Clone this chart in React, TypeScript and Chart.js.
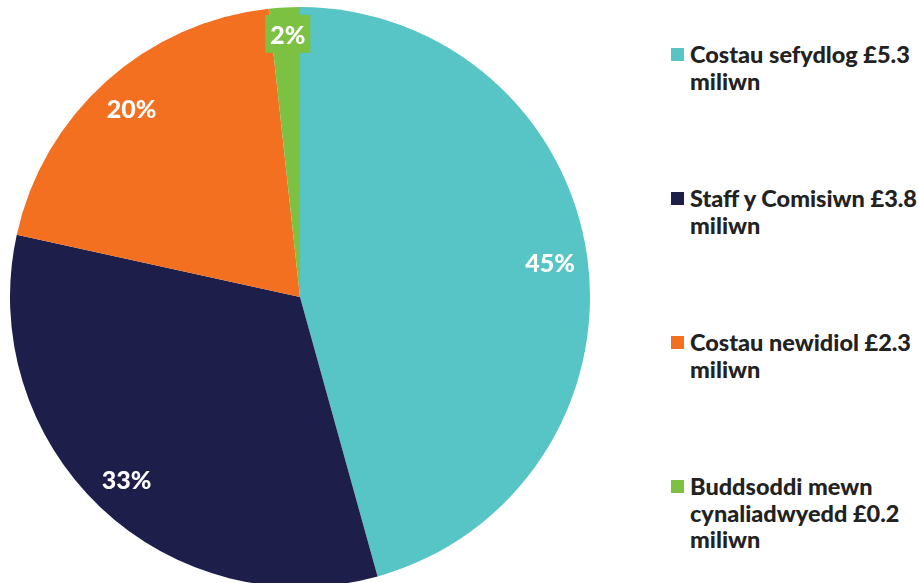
import React, { useEffect, useRef } from "react";
import { Chart, registerables } from "chart.js";

Chart.register(...registerables);

const categories = [
  "Costau sefydlog",
  "Staff y Comisiwn",
  "Costau newidiol",
  "Buddsoddi mewn cynaliadwyedd",
];
const valuesMillions = [5.3, 3.8, 2.3, 0.2];
const percentLabels = ["45%", "33%", "20%", "2%"];
const legendLines = [
  ["Costau sefydlog £5.3", "miliwn"],
  ["Staff y Comisiwn £3.8", "miliwn"],
  ["Costau newidiol £2.3", "miliwn"],
  ["Buddsoddi mewn", "cynaliadwyedd £0.2", "miliwn"],
];
const colors = ["#57C4C6", "#1E1E4B", "#F37021", "#7DC142"];

const LABEL_FONT = "900 25px Lato, 'Noto Sans', sans-serif";
const LEGEND_FONT = "900 23.5px Lato, 'Noto Sans', sans-serif";

const pieLabels = {
  id: "pieLabels",
  afterDatasetsDraw(chart: any) {
    const ctx = chart.ctx;
    const meta = chart.getDatasetMeta(0);
    const total = valuesMillions.reduce((a, b) => a + b, 0);
    ctx.save();
    ctx.font = LABEL_FONT;
    ctx.textAlign = "center";
    ctx.textBaseline = "middle";
    meta.data.forEach((arc: any, i: number) => {
      const p = arc.getProps(["x", "y", "startAngle", "endAngle", "outerRadius"], true);
      const mid = (p.startAngle + p.endAngle) / 2;
      const small = valuesMillions[i] / total < 0.05;
      const r = p.outerRadius * (small ? 0.905 : 0.87);
      const x = p.x + Math.cos(mid) * r + (small ? 2 : 0);
      const y = p.y + Math.sin(mid) * r;
      const text = percentLabels[i];
      if (small) {
        const w = ctx.measureText(text).width + 10;
        const h = 38;
        ctx.fillStyle = colors[i];
        ctx.fillRect(x - w / 2, y - h / 2 - 1, w, h);
      }
      ctx.fillStyle = "#ffffff";
      ctx.fillText(text, x, y + 1);
    });
    ctx.restore();
  },
};

export default function App() {
  const canvasRef = useRef<HTMLCanvasElement | null>(null);

  useEffect(() => {
    if (!canvasRef.current) return;
    const chart = new Chart(canvasRef.current, {
      type: "pie",
      data: {
        labels: categories,
        datasets: [
          {
            data: valuesMillions,
            backgroundColor: colors,
            borderWidth: 0,
          },
        ],
      },
      options: {
        animation: false,
        responsive: true,
        maintainAspectRatio: false,
        layout: { padding: 0 },
        plugins: {
          legend: { display: false },
          tooltip: { enabled: false },
        },
      },
      plugins: [pieLabels],
    });
    if ((document as any).fonts && (document as any).fonts.ready) {
      (document as any).fonts.ready.then(() => chart.draw());
    }
    return () => chart.destroy();
  }, []);

  return (
    <div
      style={{
        position: "fixed",
        left: 0,
        top: 0,
        width: 918,
        height: 583,
        overflow: "hidden",
        background: "#ffffff",
      }}
    >
      <div style={{ position: "absolute", left: 10, top: 7, width: 580, height: 580 }}>
        <canvas ref={canvasRef} />
      </div>
      <div style={{ position: "absolute", left: 671, top: 41, width: 247 }}>
        {legendLines.map((lines, i) => (
          <div key={i} style={{ position: "relative", height: 144 }}>
            <div
              style={{
                position: "absolute",
                left: 0,
                top: 7,
                width: 13,
                height: 13,
                background: colors[i],
              }}
            />
            <div
              style={{
                position: "absolute",
                left: 19,
                top: 0,
                font: LEGEND_FONT,
                lineHeight: "26.7px",
                color: "#222222",
                whiteSpace: "nowrap",
              }}
            >
              {lines.map((l, j) => (
                <div key={j}>{l}</div>
              ))}
            </div>
          </div>
        ))}
      </div>
    </div>
  );
}
